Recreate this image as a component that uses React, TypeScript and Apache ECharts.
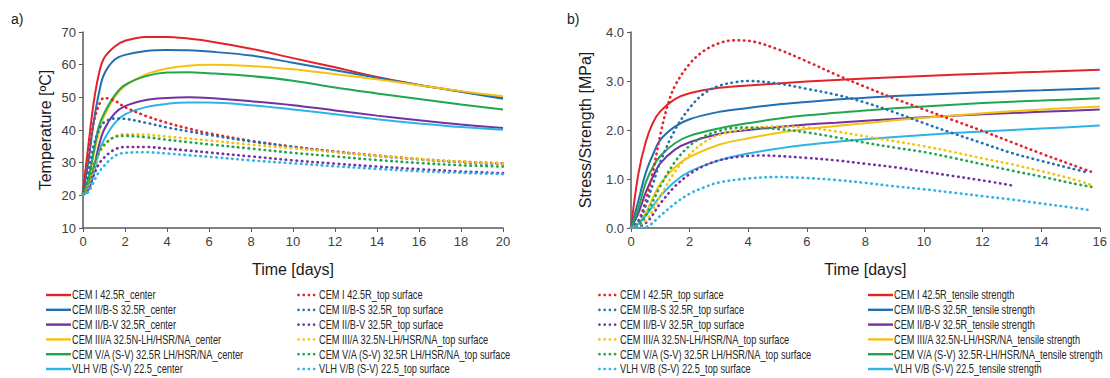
import React, { useEffect, useRef } from "react";
import * as echarts from "echarts";

// ---------- colours ----------
const RED = "#E3232A";
const BLUE = "#2170B4";
const PURPLE = "#7332A1";
const YELLOW = "#F5C30F";
const GREEN = "#21A64E";
const CYAN = "#2BB4E4";

// ---------- chart a) temperature ----------
const TIME_A = [0, 0.25, 0.5, 0.75, 1, 1.5, 2, 3, 4, 5, 6, 8, 10, 12, 14, 16, 18, 20];
const X_TICKS_A = [0, 2, 4, 6, 8, 10, 12, 14, 16, 18, 20];
const Y_TICKS_A = [10, 20, 30, 40, 50, 60, 70];

const NAMES_CENTER = [
  "CEM I 42.5R_center",
  "CEM II/B-S 32.5R_center",
  "CEM II/B-V 32.5R_center",
  "CEM III/A 32.5N-LH/HSR/NA_center",
  "CEM V/A (S-V) 32.5R LH/HSR/NA_center",
  "VLH V/B (S-V) 22.5_center",
];
const NAMES_TOP = [
  "CEM I 42.5R_top surface",
  "CEM II/B-S 32.5R_top surface",
  "CEM II/B-V 32.5R_top surface",
  "CEM III/A 32.5N-LH/HSR/NA_top surface",
  "CEM V/A (S-V) 32.5R LH/HSR/NA_top surface",
  "VLH V/B (S-V) 22.5_top surface",
];
const NAMES_TENSILE = [
  "CEM I 42.5R_tensile strength",
  "CEM II/B-S 32.5R_tensile strength",
  "CEM II/B-V 32.5R_tensile strength",
  "CEM III/A 32.5N-LH/HSR/NA_tensile strength",
  "CEM V/A (S-V) 32.5R-LH/HSR/NA_tensile strength",
  "VLH V/B (S-V) 22.5_tensile strength",
];
const COLORS = [RED, BLUE, PURPLE, YELLOW, GREEN, CYAN];

const CENTER_RED = [21, 35, 48, 57, 62, 65.5, 67.3, 68.5, 68.5, 68, 67.2, 64.9, 62, 59.2, 56.2, 53.8, 51.8, 49.8];
const CENTER_BLUE = [21, 30, 42, 51, 57, 61.5, 63, 64.2, 64.5, 64.4, 64, 62.8, 60.6, 58.3, 56, 53.8, 51.7, 49.6];
const CENTER_PURPLE = [20.5, 23, 28, 35, 40, 45, 47.3, 49.2, 49.8, 50, 49.8, 48.8, 47.6, 46, 44.4, 43, 41.7, 40.6];
const CENTER_YELLOW = [20.5, 24, 32, 39, 44, 50, 53.5, 57, 58.8, 59.7, 60, 59.6, 58.6, 57.1, 55.5, 53.7, 51.9, 50.3];
const CENTER_GREEN = [20.5, 25, 33, 41, 45, 50.5, 53.8, 56.5, 57.6, 57.7, 57.4, 56.5, 55.1, 53, 51.2, 49.5, 47.8, 46.3];
const CENTER_CYAN = [20, 21.5, 26, 33, 37, 42, 44.8, 47, 48, 48.4, 48.4, 47.6, 46.3, 44.8, 43.3, 42, 40.9, 40.1];

const TOP_RED = [21, 32, 42, 47.5, 49.8, 49, 47, 44.3, 42.2, 40.5, 39, 36.7, 34.9, 33.4, 32.2, 31.1, 30.3, 29.8];
const TOP_BLUE = [20.5, 27, 35, 40, 42.3, 43.5, 43.4, 42.2, 40.8, 39.6, 38.5, 36.5, 34.8, 33.3, 32, 31, 30.1, 29.5];
const TOP_PURPLE = [20.5, 22, 26, 29.5, 31.5, 34, 34.8, 34.8, 34.3, 33.7, 33.1, 31.9, 30.7, 29.7, 28.8, 28, 27.3, 26.8];
const TOP_YELLOW = [20.5, 23, 28, 32.5, 35, 38, 38.7, 38.6, 38, 37.4, 36.8, 35.5, 34.4, 33.2, 32.1, 31.1, 30.3, 29.7];
const TOP_GREEN = [20.5, 24, 29, 33, 35.5, 37.8, 38.2, 37.8, 37, 36.3, 35.6, 34.3, 33, 31.9, 30.8, 29.9, 29.2, 28.8];
const TOP_CYAN = [20, 21, 24, 27, 29, 32, 33, 33.2, 32.8, 32.3, 31.8, 30.7, 29.8, 28.9, 28.1, 27.4, 26.9, 26.5];

// ---------- chart b) stress / strength ----------
const X_TICKS_B = [0, 2, 4, 6, 8, 10, 12, 14, 16];
const Y_TICKS_B = [0, 1, 2, 3, 4];

const TIME_B = [0, 0.25, 0.5, 0.75, 1, 1.5, 2, 3, 4, 5, 6, 7, 8, 10, 12, 14, 16];
const TENSILE_RED = [0, 1.1, 1.75, 2.15, 2.38, 2.63, 2.75, 2.86, 2.91, 2.95, 2.99, 3.02, 3.05, 3.1, 3.15, 3.19, 3.23];
const TENSILE_BLUE = [0, 0.55, 1.12, 1.5, 1.8, 2.07, 2.22, 2.37, 2.45, 2.52, 2.57, 2.62, 2.66, 2.72, 2.77, 2.81, 2.85];
const TENSILE_PURPLE = [0, 0.3, 0.72, 1.05, 1.32, 1.6, 1.75, 1.92, 2.0, 2.06, 2.11, 2.15, 2.19, 2.26, 2.32, 2.37, 2.42];
const TENSILE_YELLOW = [0, 0.1, 0.3, 0.62, 0.9, 1.24, 1.45, 1.7, 1.83, 1.94, 2.02, 2.08, 2.14, 2.25, 2.34, 2.42, 2.48];
const TENSILE_GREEN = [0, 0.4, 0.92, 1.25, 1.47, 1.73, 1.88, 2.03, 2.14, 2.23, 2.3, 2.35, 2.4, 2.48, 2.55, 2.6, 2.65];
const TENSILE_CYAN = [0, 0.08, 0.25, 0.45, 0.65, 0.95, 1.15, 1.38, 1.52, 1.62, 1.7, 1.76, 1.81, 1.9, 1.97, 2.03, 2.09];

const STRESS_RED_T = [0, 0.25, 0.5, 0.75, 1, 1.25, 1.5, 2, 2.5, 3, 3.5, 4, 5, 6, 7, 8, 9, 10, 11, 12, 13, 14, 15, 15.7];
const STRESS_RED = [0, 0.15, 0.55, 1.15, 1.9, 2.5, 2.9, 3.35, 3.62, 3.77, 3.83, 3.82, 3.65, 3.4, 3.13, 2.88, 2.64, 2.42, 2.2, 1.98, 1.75, 1.52, 1.3, 1.15];
const STRESS_BLUE_T = [0, 0.25, 0.5, 0.75, 1, 1.5, 2, 2.5, 3, 3.5, 4, 5, 6, 7, 8, 9, 10, 11, 12, 13, 14, 15, 15.6];
const STRESS_BLUE = [0, 0.12, 0.45, 0.9, 1.35, 2.0, 2.45, 2.75, 2.9, 2.97, 3.0, 2.95, 2.84, 2.72, 2.56, 2.36, 2.14, 1.93, 1.73, 1.53, 1.37, 1.22, 1.13];
const STRESS_PURPLE_T = [0, 0.5, 1, 1.5, 2, 2.5, 3, 3.5, 4, 4.5, 5, 6, 7, 8, 9, 10, 11, 12, 13];
const STRESS_PURPLE = [0, 0.1, 0.5, 0.85, 1.1, 1.27, 1.38, 1.44, 1.47, 1.48, 1.47, 1.43, 1.38, 1.31, 1.24, 1.15, 1.06, 0.97, 0.87];
const STRESS_YELLOW_T = [0, 0.5, 1, 1.5, 2, 2.5, 3, 4, 5, 6, 7, 8, 9, 10, 11, 12, 13, 14, 15, 15.7];
const STRESS_YELLOW = [0, 0.15, 0.65, 1.15, 1.5, 1.75, 1.9, 2.03, 2.07, 2.05, 1.97, 1.87, 1.77, 1.67, 1.55, 1.42, 1.3, 1.16, 1.01, 0.88];
const STRESS_GREEN_T = [0, 0.25, 0.5, 1, 1.5, 2, 2.5, 3, 3.5, 4, 5, 6, 7, 8, 9, 10, 11, 12, 13, 14, 15, 15.8];
const STRESS_GREEN = [0, 0.05, 0.25, 0.85, 1.35, 1.68, 1.87, 1.98, 2.04, 2.05, 2.02, 1.95, 1.85, 1.74, 1.64, 1.55, 1.43, 1.3, 1.17, 1.05, 0.92, 0.83];
const STRESS_CYAN_T = [0, 0.5, 1, 1.5, 2, 2.5, 3, 4, 5, 6, 7, 8, 9, 10, 11, 12, 13, 14, 15, 15.6];
const STRESS_CYAN = [0, 0.02, 0.25, 0.5, 0.7, 0.83, 0.93, 1.01, 1.04, 1.02, 0.98, 0.92, 0.85, 0.79, 0.72, 0.65, 0.58, 0.5, 0.42, 0.37];

const FONT = "'Liberation Sans', Arial, sans-serif";
const AXIS_COLOR = "#595959";
const TEXT_COLOR = "#404040";

function line(name: string, xs: number[], ys: number[], color: string, dotted: boolean, axis: number) {
  return {
    type: "line",
    name,
    xAxisIndex: axis,
    yAxisIndex: axis,
    data: xs.map((x, i) => [x, ys[i]]),
    smooth: 0.35,
    symbol: "none",
    showSymbol: false,
    clip: true,
    lineStyle: dotted
      ? { color, width: 2.6, type: [0.5, 4.8], cap: "round" }
      : { color, width: 2 },
    itemStyle: { color },
    z: dotted ? 3 : 2,
  };
}

function xAxis(grid: number, max: number, interval: number, ticks: number[]) {
  return {
    type: "value",
    gridIndex: grid,
    min: 0,
    max,
    interval,
    name: "Time [days]",
    nameLocation: "middle",
    nameGap: 33,
    nameTextStyle: { fontFamily: FONT, fontSize: 16, color: "#1a1a1a" },
    splitLine: { show: false },
    axisLine: { lineStyle: { color: AXIS_COLOR, width: 1.5 } },
    axisTick: { show: true, length: 4, inside: false, lineStyle: { color: AXIS_COLOR } },
    axisLabel: {
      margin: 7,
      fontFamily: FONT,
      fontSize: 13,
      color: TEXT_COLOR,
      formatter: (v: number) => (ticks.includes(v) ? String(v) : ""),
    },
  };
}

// hand-built legend column (narrow text, like the original)
const ROW0 = 295;
const ROW_STEP = 14.8;
function legendColumn(names: string[], x: number, dotted: boolean) {
  const els: any[] = [];
  names.forEach((n, i) => {
    const y = ROW0 + i * ROW_STEP;
    const c = COLORS[i];
    let textX: number;
    if (dotted) {
      for (let k = 0; k < 4; k++) {
        els.push({ type: "circle", shape: { cx: x + 1.5 + k * 5.2, cy: y, r: 1.35 }, style: { fill: c } });
      }
      textX = x + 22;
    } else {
      els.push({ type: "line", shape: { x1: x, y1: y, x2: x + 25, y2: y }, style: { stroke: c, lineWidth: 2.4 } });
      textX = x + 26;
    }
    els.push({
      type: "text",
      x: textX,
      y,
      scaleX: 0.77,
      style: { text: n, fontFamily: FONT, fontSize: 12, fill: "#262626", verticalAlign: "middle", align: "left" },
    });
  });
  return els;
}

export default function App() {
  const ref = useRef<HTMLDivElement>(null);
  useEffect(() => {
    if (!ref.current) return;
    const chart = echarts.init(ref.current, undefined, { renderer: "svg" });
    const centerData = [CENTER_RED, CENTER_BLUE, CENTER_PURPLE, CENTER_YELLOW, CENTER_GREEN, CENTER_CYAN];
    const topData = [TOP_RED, TOP_BLUE, TOP_PURPLE, TOP_YELLOW, TOP_GREEN, TOP_CYAN];
    const tensileData = [TENSILE_RED, TENSILE_BLUE, TENSILE_PURPLE, TENSILE_YELLOW, TENSILE_GREEN, TENSILE_CYAN];
    const stressX = [STRESS_RED_T, STRESS_BLUE_T, STRESS_PURPLE_T, STRESS_YELLOW_T, STRESS_GREEN_T, STRESS_CYAN_T];
    const stressY = [STRESS_RED, STRESS_BLUE, STRESS_PURPLE, STRESS_YELLOW, STRESS_GREEN, STRESS_CYAN];

    const series: any[] = [];
    NAMES_CENTER.forEach((n, i) => series.push(line(n, TIME_A, centerData[i], COLORS[i], false, 0)));
    NAMES_TOP.forEach((n, i) => series.push(line(n, TIME_A, topData[i], COLORS[i], true, 0)));
    NAMES_TOP.forEach((n, i) => series.push(line(n, stressX[i], stressY[i], COLORS[i], true, 1)));
    NAMES_TENSILE.forEach((n, i) => series.push(line(n, TIME_B, tensileData[i], COLORS[i], false, 1)));

    chart.setOption({
      animation: false,
      backgroundColor: "#ffffff",
      textStyle: { fontFamily: FONT },
      grid: [
        { left: 83, top: 32, width: 420, height: 196 },
        { left: 631, top: 32, width: 469, height: 196 },
      ],
      xAxis: [xAxis(0, 20, 2, X_TICKS_A), xAxis(1, 16, 2, X_TICKS_B)],
      yAxis: [
        {
          type: "value",
          gridIndex: 0,
          min: 10,
          max: 70,
          interval: 10,
          name: "Temperature [ºC]",
          nameLocation: "middle",
          nameGap: 30,
          nameTextStyle: { fontFamily: FONT, fontSize: 16, color: "#1a1a1a" },
          splitLine: { show: false },
          axisLine: { show: true, lineStyle: { color: AXIS_COLOR, width: 1.5 } },
          axisTick: { show: true, length: 4, lineStyle: { color: AXIS_COLOR } },
          axisLabel: {
            margin: 7,
            fontFamily: FONT,
            fontSize: 13,
            color: TEXT_COLOR,
            formatter: (v: number) => (Y_TICKS_A.includes(v) ? String(v) : ""),
          },
        },
        {
          type: "value",
          gridIndex: 1,
          min: 0,
          max: 4,
          interval: 1,
          name: "Stress/Strength [MPa]",
          nameLocation: "middle",
          nameGap: 38,
          nameTextStyle: { fontFamily: FONT, fontSize: 16, color: "#1a1a1a" },
          splitLine: { show: false },
          axisLine: { show: true, lineStyle: { color: AXIS_COLOR, width: 1.5 } },
          axisTick: { show: true, length: 4, lineStyle: { color: AXIS_COLOR } },
          axisLabel: {
            margin: 7,
            fontFamily: FONT,
            fontSize: 13,
            color: TEXT_COLOR,
            formatter: (v: number) => (Y_TICKS_B.includes(v) ? v.toFixed(1) : ""),
          },
        },
      ],
      graphic: [
        { type: "text", left: 11, top: 12, style: { text: "a)", fontFamily: FONT, fontSize: 14, fill: "#1a1a1a" } },
        { type: "text", left: 567, top: 12, style: { text: "b)", fontFamily: FONT, fontSize: 14, fill: "#1a1a1a" } },
        ...legendColumn(NAMES_CENTER, 46, false),
        ...legendColumn(NAMES_TOP, 297, true),
        ...legendColumn(NAMES_TOP, 598, true),
        ...legendColumn(NAMES_TENSILE, 868, false),
      ],
      series,
    });
    return () => chart.dispose();
  }, []);
  return (
    <div
      ref={ref}
      style={{ position: "fixed", left: 0, top: 0, width: 1110, height: 378, background: "#fff" }}
    />
  );
}
